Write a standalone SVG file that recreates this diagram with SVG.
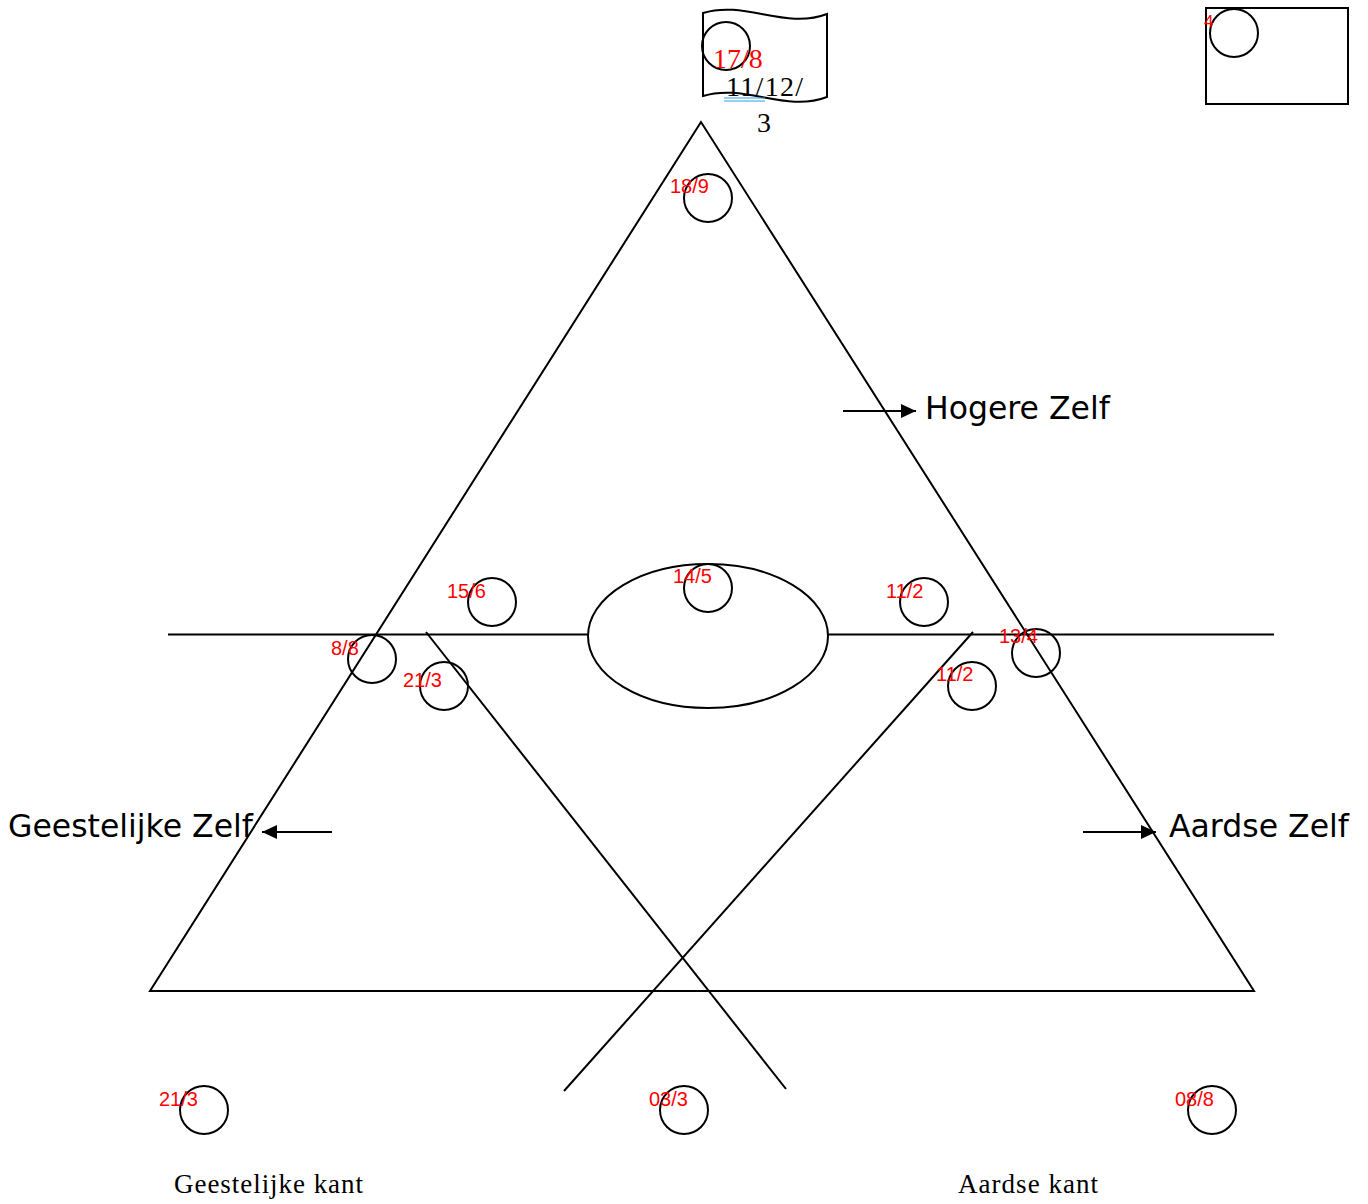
<svg xmlns="http://www.w3.org/2000/svg" width="1368" height="1204" viewBox="0 0 1368 1204">
<style>
.ln{fill:none;stroke:#000;stroke-width:2}
.c{fill:none;stroke:#000;stroke-width:2}
.lbl{font-family:"Liberation Sans",Arial,sans-serif;font-size:20px;fill:#ff0000}
.big{font-family:"DejaVu Sans",Verdana,sans-serif;font-size:31.5px;fill:#000}
.ser{font-family:"Liberation Serif","Times New Roman",serif;font-size:27px;fill:#000}
.fl{font-family:"Liberation Serif","Times New Roman",serif;font-size:28px}
</style>
<defs>
<marker id="ah" markerWidth="15" markerHeight="14" refX="15" refY="7" orient="auto" markerUnits="userSpaceOnUse">
<path d="M0,0 L15,7 L0,14 Z" fill="#000"/>
</marker>
</defs>
<rect width="1368" height="1204" fill="#fff"/>
<g id="connectors">
<path class="ln" d="M701,122 L150,991 L1254,991 Z"/>
<line class="ln" x1="168" y1="634.5" x2="588" y2="634.5"/>
<line class="ln" x1="828" y1="634.5" x2="1274" y2="634.5"/>
<line class="ln" x1="426" y1="632" x2="786" y2="1089"/>
<line class="ln" x1="973" y1="632" x2="564" y2="1091"/>
<line class="ln" x1="843" y1="411" x2="916" y2="411" marker-end="url(#ah)"/>
<line class="ln" x1="332" y1="832" x2="262" y2="832" marker-end="url(#ah)"/>
<line class="ln" x1="1083" y1="832" x2="1156" y2="832" marker-end="url(#ah)"/>
</g>
<g id="flag">
<path class="ln" d="M703,13 C745,0 785,30 827,14 L827,97 C785,113 745,83 703,96 Z"/>
<circle class="c" cx="726" cy="46" r="24"/>
<text class="fl" x="713" y="68" fill="#ff0000">17/8</text>
<text class="fl" x="726" y="96" fill="#000" textLength="77" lengthAdjust="spacing">11/12/</text>
<line x1="724" y1="98" x2="765" y2="98" stroke="#2aa0e0" stroke-width="1"/>
<line x1="724" y1="101" x2="765" y2="101" stroke="#2aa0e0" stroke-width="1"/>
<text class="fl" x="757" y="132" fill="#000">3</text>
</g>
<g id="box4">
<rect class="ln" x="1206" y="8" width="142" height="96"/>
<circle class="c" cx="1234" cy="33" r="24"/>
<text class="lbl" x="1204" y="27" style="font-size:17px">4</text>
</g>
<g id="ellipse">
<ellipse class="c" cx="708" cy="636" rx="120" ry="72"/>
</g>
<g id="n18-9"><circle class="c" cx="708" cy="198" r="24"/><text class="lbl" x="670" y="193">18/9</text></g>
<g id="n15-6"><circle class="c" cx="492" cy="602" r="24"/><text class="lbl" x="447" y="598">15/6</text></g>
<g id="n14-5"><circle class="c" cx="708" cy="588" r="24"/><text class="lbl" x="673" y="583">14/5</text></g>
<g id="n11-2a"><circle class="c" cx="924" cy="602" r="24"/><text class="lbl" x="886" y="598">11/2</text></g>
<g id="n8-8"><circle class="c" cx="372" cy="659" r="24"/><text class="lbl" x="331" y="655">8/8</text></g>
<g id="n21-3a"><circle class="c" cx="444" cy="686" r="24"/><text class="lbl" x="403" y="687">21/3</text></g>
<g id="n13-4"><circle class="c" cx="1036" cy="653" r="24"/><text class="lbl" x="999" y="643">13/4</text></g>
<g id="n11-2b"><circle class="c" cx="972" cy="686" r="24"/><text class="lbl" x="936" y="681">11/2</text></g>
<g id="n21-3b"><circle class="c" cx="204" cy="1110" r="24"/><text class="lbl" x="159" y="1106">21/3</text></g>
<g id="n03-3"><circle class="c" cx="684" cy="1110" r="24"/><text class="lbl" x="649" y="1106">03/3</text></g>
<g id="n08-8"><circle class="c" cx="1212" cy="1110" r="24"/><text class="lbl" x="1175" y="1106">08/8</text></g>
<g id="labels">
<text class="big" x="925" y="419">Hogere Zelf</text>
<text class="big" x="8" y="837">Geestelijke Zelf</text>
<text class="big" x="1169" y="837">Aardse Zelf</text>
<text class="ser" x="174" y="1193" textLength="189" lengthAdjust="spacing">Geestelijke kant</text>
<text class="ser" x="958" y="1193" textLength="140" lengthAdjust="spacing">Aardse kant</text>
</g>
</svg>
